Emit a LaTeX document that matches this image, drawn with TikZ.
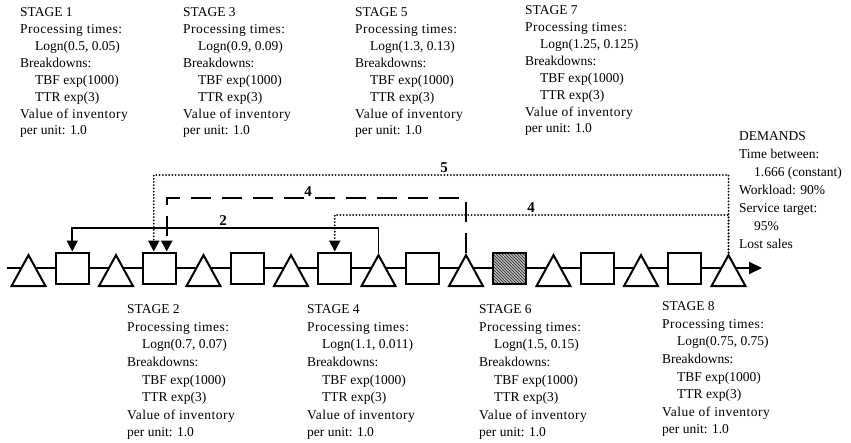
\documentclass[tikz,border=0pt]{standalone}
\usepackage{fontspec}
\setmainfont{Liberation Serif}
\usetikzlibrary{shapes.geometric,arrows.meta,patterns}
\newcommand\wideline[1]{{\addfontfeatures{LetterSpace=3.5}#1}}
\newcommand\stgtxt[2]{STAGE #1\\\wideline{Processing times:}\\\hspace*{15pt}Logn(#2)\\Breakdowns:\\\hspace*{15pt}TBF exp(1000)\\\hspace*{15pt}TTR exp(3)\\\wideline{Value of inventory}\\per unit: 1.0}
\begin{document}
\begin{tikzpicture}[x=1pt,y=-1pt,
  ml/.style={line width=2pt},
  boxn/.style={draw, line width=2pt, fill=white, minimum width=33pt, minimum height=31pt, inner sep=0pt},
  tri/.style={draw, line width=2pt, fill=white, isosceles triangle, shape border rotate=90, isosceles triangle stretches, minimum width=34pt, minimum height=31pt, inner sep=0pt, anchor=apex},
  tip/.style={-{Triangle[length=11pt,width=11pt]}},
  solidc/.style={line width=1.8pt, tip},
  dashc/.style={line width=2.4pt, dash pattern=on 20pt off 11pt, tip},
  dotc/.style={line width=2pt, dash pattern=on 0pt off 3.2pt, line cap=round, tip},
  num/.style={font=\fontsize{15}{15}\selectfont\bfseries, inner sep=0pt, anchor=base},
  blk/.style={font=\fontsize{13.5}{16.9}\selectfont, align=left, inner sep=0pt, anchor=north west},
  blkb/.style={font=\fontsize{13.5}{17.6}\selectfont, align=left, inner sep=0pt, anchor=north west},
  blkd/.style={font=\fontsize{13.5}{18}\selectfont, align=left, inner sep=0pt, anchor=north west},
]
\useasboundingbox (0,0) rectangle (851,442);
% main line
\coordinate (start) at (7,268);
\coordinate (end) at (762,268);
\draw[ml, -{Triangle[length=13pt,width=12pt]}] (start) -- (end);
% stations
\node[tri] (t1) at (28.5,252.5) {};
\node[boxn] (b1) at (72.25,268) {};
\node[tri] (t2) at (116,252.5) {};
\node[boxn] (b2) at (159.75,268) {};
\node[tri] (t3) at (203.5,252.5) {};
\node[boxn] (b3) at (247.25,268) {};
\node[tri] (t4) at (291,252.5) {};
\node[boxn] (b4) at (334.75,268) {};
\node[tri] (t5) at (378.5,252.5) {};
\node[boxn] (b5) at (422.25,268) {};
\node[tri] (t6) at (466,252.5) {};
\node[boxn, preaction={fill=gray!55}, pattern=north west lines, pattern color=black!85] (b6) at (509.75,268) {};
\node[tri] (t7) at (553.5,252.5) {};
\node[boxn] (b7) at (597.25,268) {};
\node[tri] (t8) at (641,252.5) {};
\node[boxn] (b8) at (684.75,268) {};
\node[tri] (t9) at (728.5,252.5) {};
% kanban loops
\draw[solidc] (t5.apex) -- (t5.apex |- 0,228) -| (b1.north);
\draw[dashc] (t6.apex) -- (t6.apex |- 0,198) -| ([xshift=7pt]b2.north);
\draw[dotc] (t9.apex) -- (t9.apex |- 0,215) -| (b4.north);
\draw[dotc] (t9.apex) -- (t9.apex |- 0,175) -| ([xshift=-6pt]b2.north);
\node[num] (l5) at (444,172) {5};
\node[num] (l4a) at (308,196) {4};
\node[num] (l4b) at (531,212) {4};
\node[num] (l2) at (223,225) {2};
% stage texts
\node[blk] (s1) at (20,7.5) {\stgtxt{1}{0.5, 0.05}};
\node[blk] (s3) at (183,7.5) {\stgtxt{3}{0.9, 0.09}};
\node[blk] (s5) at (355,7.5) {\stgtxt{5}{1.3, 0.13}};
\node[blk] (s7) at (525,5.5) {\stgtxt{7}{1.25, 0.125}};
\node[blkb] (s2) at (127,304.5) {\stgtxt{2}{0.7, 0.07}};
\node[blkb] (s4) at (307,304.5) {\stgtxt{4}{1.1, 0.011}};
\node[blkb] (s6) at (479,304.5) {\stgtxt{6}{1.5, 0.15}};
\node[blkb] (s8) at (662,301.5) {\stgtxt{8}{0.75, 0.75}};
\node[blkd] (dem) at (739,131.5) {DEMANDS\\Time between:\\\hspace*{15pt}1.666 (constant)\\Workload: 90\%\\Service target:\\\hspace*{15pt}95\%\\Lost sales};
\end{tikzpicture}
\end{document}
